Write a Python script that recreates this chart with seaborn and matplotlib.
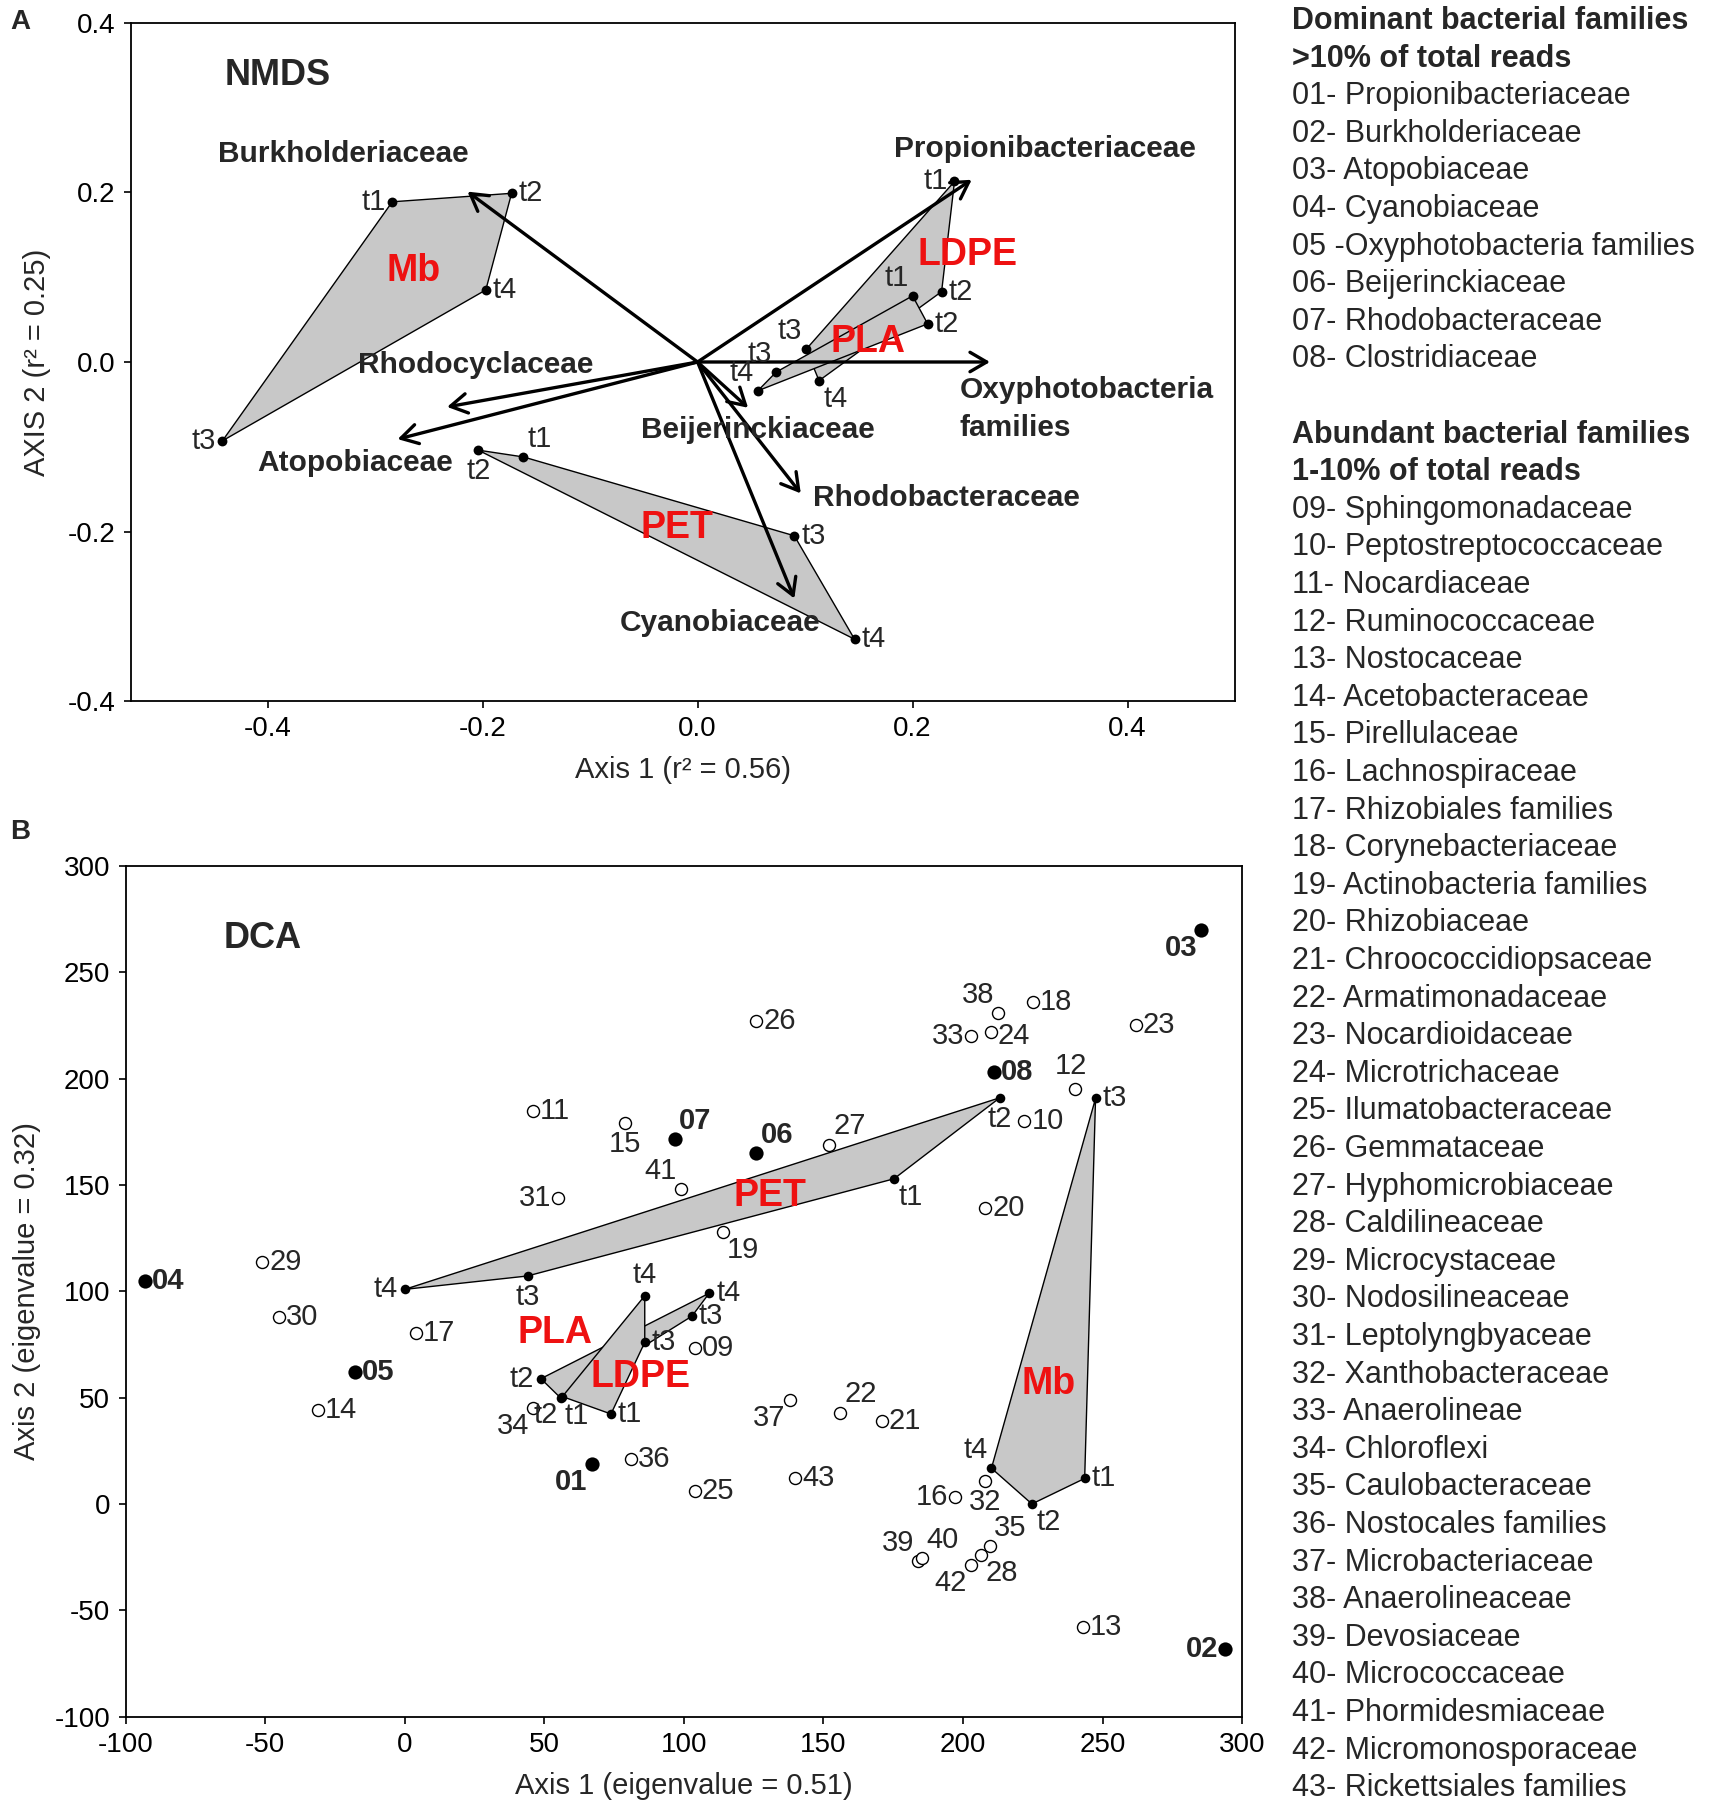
import numpy as np
import pandas as pd
import matplotlib
matplotlib.use('Agg')
import matplotlib.pyplot as plt
import seaborn as sns

# ---------------- Panel A : NMDS ----------------
times = ['t1', 't2', 't3', 't4']
nmds_mb_x = [-0.284, -0.173, -0.442, -0.197]
nmds_mb_y = [0.189, 0.199, -0.093, 0.085]
nmds_pet_x = [-0.162, -0.204, 0.090, 0.146]
nmds_pet_y = [-0.112, -0.104, -0.205, -0.327]
nmds_ldpe_x = [0.239, 0.227, 0.101, 0.113]
nmds_ldpe_y = [0.213, 0.083, 0.015, -0.022]
nmds_pla_x = [0.200, 0.214, 0.073, 0.056]
nmds_pla_y = [0.078, 0.045, -0.012, -0.034]

vec_names = ['Burkholderiaceae', 'Propionibacteriaceae', 'Oxyphotobacteria\nfamilies',
             'Rhodocyclaceae', 'Atopobiaceae', 'Beijerinckiaceae', 'Rhodobacteraceae',
             'Cyanobiaceae']
vec_x = [-0.214, 0.255, 0.272, -0.233, -0.279, 0.047, 0.096, 0.090]
vec_y = [0.201, 0.215, 0.0, -0.053, -0.091, -0.054, -0.155, -0.279]

# ---------------- Panel B : DCA ----------------
dca_pet_x = [175.3, 213.2, 44.0, 0.0]
dca_pet_y = [152.9, 191.0, 107.2, 100.9]
dca_mb_x = [243.6, 224.7, 247.5, 210.2]
dca_mb_y = [12.0, 0.0, 190.7, 16.8]
dca_pla_x = [55.9, 48.8, 102.9, 109.1]
dca_pla_y = [49.8, 58.9, 88.3, 99.1]
dca_ldpe_x = [73.9, 56.5, 86.0, 86.0]
dca_ldpe_y = [42.3, 50.5, 76.0, 97.9]

dom_ids = ['01', '02', '03', '04', '05', '06', '07', '08']
dom_x = [67, 294, 285.3, -93, -17.7, 126, 96.7, 211]
dom_y = [19, -68, 270, 105, 62, 165, 171.5, 203]

abd_ids = [f'{i:02d}' for i in range(9, 44)]
abd_x = [104, 222, 46, 240, 243, -31, 79, 197, 4, 225, 114, 208, 171, 156, 262, 210,
         104, 126, 152, 206.6, -51, -45, 55, 208, 203, 46, 209.6, 81, 138, 212.6,
         184, 185.5, 99, 203, 140]
abd_y = [73.5, 180, 185, 195, -58, 44, 179, 3.3, 80.5, 236, 128, 139, 39, 43, 225, 222,
         6.3, 227, 169, -24, 114, 88, 144, 11, 220, 45, -20, 21, 49, 231,
         -27, -25.5, 148, -28.5, 12]

legend_dom = ['Propionibacteriaceae', 'Burkholderiaceae', 'Atopobiaceae', 'Cyanobiaceae',
              'Oxyphotobacteria families', 'Beijerinckiaceae', 'Rhodobacteraceae',
              'Clostridiaceae']
legend_abd = ['Sphingomonadaceae', 'Peptostreptococcaceae', 'Nocardiaceae', 'Ruminococcaceae',
              'Nostocaceae', 'Acetobacteraceae', 'Pirellulaceae', 'Lachnospiraceae',
              'Rhizobiales families', 'Corynebacteriaceae', 'Actinobacteria families',
              'Rhizobiaceae', 'Chroococcidiopsaceae', 'Armatimonadaceae', 'Nocardioidaceae',
              'Microtrichaceae', 'Ilumatobacteraceae', 'Gemmataceae', 'Hyphomicrobiaceae',
              'Caldilineaceae', 'Microcystaceae', 'Nodosilineaceae', 'Leptolyngbyaceae',
              'Xanthobacteraceae', 'Anaerolineae', 'Chloroflexi', 'Caulobacteraceae',
              'Nostocales families', 'Microbacteriaceae', 'Anaerolineaceae', 'Devosiaceae',
              'Micrococcaceae', 'Phormidesmiaceae', 'Micromonosporaceae', 'Rickettsiales families']

# ---------------- label placement (layout only) ----------------
OFF = {'r': (5, 0, 'left', 'center'), 'l': (-5, 0, 'right', 'center'),
       'a': (0, 5, 'center', 'bottom'), 'b': (0, -5, 'center', 'top'),
       'ar': (3, 3, 'left', 'bottom'), 'al': (-3, 3, 'right', 'bottom'),
       'br': (3, -3, 'left', 'top'), 'bl': (-3, -3, 'right', 'top'),
       'ta': (-3, 7, 'center', 'bottom'), 'rb': (5, -3, 'left', 'center')}

pos_a = {'Mb': ['l', 'r', 'l', 'r'], 'PET': ['ar', 'b', 'r', 'r'],
         'LDPE': ['l', 'r', 'al', 'br'], 'PLA': ['al', 'r', 'al', 'al']}
pos_b = {'PET': ['br', 'b', 'b', 'l'], 'Mb': ['r', 'br', 'r', 'al'],
         'PLA': ['br', 'l', 'r', 'r'], 'LDPE': ['r', 'bl', 'r', 'a']}
pos_dom = ['bl', 'l', 'bl', 'r', 'r', 'ar', 'ar', 'r']
pos_abd = ['r', 'r', 'r', 'ta', 'r', 'r', 'b', 'l', 'r', 'r', 'br', 'r', 'r', 'ar', 'r', 'rb',
           'r', 'r', 'ar', 'br', 'r', 'r', 'l', 'b', 'l', 'bl', 'ar', 'r', 'bl', 'al',
           'al', 'ar', 'al', 'bl', 'r']

sns.set_style('ticks')
NARROW = ['Liberation Sans Narrow', 'Liberation Sans', 'DejaVu Sans']
ARIAL = ['Liberation Sans', 'DejaVu Sans']
plt.rcParams['font.family'] = NARROW
plt.rcParams['axes.unicode_minus'] = False
plt.rcParams['axes.edgecolor'] = 'black'
plt.rcParams['axes.linewidth'] = 1.3
plt.rcParams['xtick.color'] = 'black'
plt.rcParams['ytick.color'] = 'black'

GREY = '#c8c8c8'
TSIZE = 20
PSIZE = 21


def hull_order(xs, ys):
    xs = np.asarray(xs); ys = np.asarray(ys)
    ang = np.arctan2(ys - ys.mean(), xs - xs.mean())
    return np.argsort(ang)


def draw_groups(ax, groups, pos, s):
    rows = []
    for name, (gx, gy) in groups.items():
        o = hull_order(gx, gy)
        ax.fill(np.asarray(gx)[o], np.asarray(gy)[o], facecolor=GREY, edgecolor='black',
                linewidth=1.0, zorder=1)
        for t, x, y, p in zip(times, gx, gy, pos[name]):
            rows.append((name, t, x, y))
            dx, dy, ha, va = OFF[p]
            ax.annotate(t, (x, y), xytext=(dx, dy), textcoords='offset points',
                        ha=ha, va=va, fontsize=PSIZE, zorder=6)
    df = pd.DataFrame(rows, columns=['group', 'time', 'x', 'y'])
    sns.scatterplot(data=df, x='x', y='y', color='black', s=s, linewidth=0,
                    legend=False, ax=ax, zorder=5)


def style_axis(ax):
    ax.tick_params(axis='both', direction='out', length=5, width=1.2, labelsize=TSIZE, pad=6)
    for sp in ax.spines.values():
        sp.set_visible(True)
        sp.set_color('black')


fig = plt.figure(figsize=(17.13, 18.20), dpi=100)

# ---------- A ----------
axA = fig.add_axes([0.0765, 0.6148, 0.6445, 0.3726])
draw_groups(axA, {'Mb': (nmds_mb_x, nmds_mb_y), 'PET': (nmds_pet_x, nmds_pet_y),
                  'LDPE': (nmds_ldpe_x, nmds_ldpe_y), 'PLA': (nmds_pla_x, nmds_pla_y)},
            pos_a, 50)
for vx, vy in zip(vec_x, vec_y):
    axA.annotate('', xy=(vx, vy), xytext=(0, 0),
                 arrowprops=dict(arrowstyle='->,head_length=0.6,head_width=0.35',
                                 lw=2.4, color='black', shrinkA=0, shrinkB=0,
                                 mutation_scale=20), zorder=3)

vec_lab = [(-0.330, 0.245, 'center'), (0.323, 0.251, 'center'), (0.244, -0.055, 'left'),
           (-0.206, -0.004, 'center'), (-0.319, -0.119, 'center'), (0.056, -0.080, 'center'),
           (0.107, -0.160, 'left'), (0.021, -0.308, 'center')]
for name, (lx, ly, ha) in zip(vec_names, vec_lab):
    axA.text(lx, ly, name, ha=ha, va='center', fontsize=21.5, fontweight='bold',
             family=ARIAL, linespacing=1.45, zorder=7)

for name, (lx, ly) in zip(['Mb', 'PET', 'LDPE', 'PLA'],
                          [(-0.264, 0.107), (-0.019, -0.196), (0.251, 0.126), (0.159, 0.024)]):
    axA.text(lx, ly, name, color='#ee1111', fontsize=27, fontweight='bold', family=ARIAL,
             ha='center', va='center', zorder=7)
axA.text(-0.44, 0.338, 'NMDS', fontsize=26, fontweight='bold', family=ARIAL,
         ha='left', va='center')

axA.set_xlim(-0.527, 0.50)
axA.set_ylim(-0.4, 0.4)
axA.set_xticks([-0.4, -0.2, 0.0, 0.2, 0.4])
axA.set_xticklabels(['-0.4', '-0.2', '0.0', '0.2', '0.4'])
axA.set_yticks([-0.4, -0.2, 0.0, 0.2, 0.4])
axA.set_yticklabels(['-0.4', '-0.2', '0.0', '0.2', '0.4'])
axA.set_xlabel('Axis 1 (r² = 0.56)', fontsize=TSIZE + 1, labelpad=10)
axA.set_ylabel('AXIS 2 (r² = 0.25)', fontsize=TSIZE + 1, labelpad=12)
style_axis(axA)

# ---------- B ----------
axB = fig.add_axes([0.0733, 0.0568, 0.6518, 0.4674])
draw_groups(axB, {'PET': (dca_pet_x, dca_pet_y), 'Mb': (dca_mb_x, dca_mb_y),
                  'PLA': (dca_pla_x, dca_pla_y), 'LDPE': (dca_ldpe_x, dca_ldpe_y)},
            pos_b, 48)

dom_df = pd.DataFrame({'id': dom_ids, 'x': dom_x, 'y': dom_y})
abd_df = pd.DataFrame({'id': abd_ids, 'x': abd_x, 'y': abd_y})
sns.scatterplot(data=abd_df, x='x', y='y', facecolor='white', edgecolor='black', s=75,
                linewidth=1.0, legend=False, ax=axB, zorder=4)
sns.scatterplot(data=dom_df, x='x', y='y', color='black', s=105, linewidth=0,
                legend=False, ax=axB, zorder=4)
for i, x, y, p in zip(dom_ids, dom_x, dom_y, pos_dom):
    dx, dy, ha, va = OFF[p]
    axB.annotate(i, (x, y), xytext=(dx, dy), textcoords='offset points', ha=ha, va=va,
                 fontsize=21, fontweight='bold', family=ARIAL, zorder=6)
for i, x, y, p in zip(abd_ids, abd_x, abd_y, pos_abd):
    dx, dy, ha, va = OFF[p]
    axB.annotate(i, (x, y), xytext=(dx, dy), textcoords='offset points', ha=ha, va=va,
                 fontsize=PSIZE, zorder=6)

for name, (lx, ly) in zip(['PET', 'PLA', 'LDPE', 'Mb'],
                          [(130.7, 145), (53.8, 80.5), (84.3, 59.5), (230.6, 56.5)]):
    axB.text(lx, ly, name, color='#ee1111', fontsize=27, fontweight='bold', family=ARIAL,
             ha='center', va='center', zorder=7)
axB.text(-65, 266, 'DCA', fontsize=26, fontweight='bold', family=ARIAL,
         ha='left', va='center')

axB.set_xlim(-100, 300)
axB.set_ylim(-100, 300)
axB.set_xticks(np.arange(-100, 301, 50))
axB.set_yticks(np.arange(-100, 301, 50))
axB.set_xlabel('Axis 1 (eigenvalue = 0.51)', fontsize=TSIZE + 1, labelpad=10)
axB.set_ylabel('Axis 2 (eigenvalue = 0.32)', fontsize=TSIZE + 1, labelpad=10)
style_axis(axB)

# ---------- panel letters ----------
fig.text(0.006, 0.988, 'A', fontsize=20, fontweight='bold', family=ARIAL, va='center')
fig.text(0.006, 0.543, 'B', fontsize=20, fontweight='bold', family=ARIAL, va='center')

# ---------- family key ----------
lines = [('Dominant bacterial families', True), ('>10% of total reads', True)]
for k, n in enumerate(legend_dom, start=1):
    sep = ' -' if k == 5 else '- '
    lines.append((f'{k:02d}{sep}{n}', False))
lines.append(('', False))
lines += [('Abundant bacterial families', True), ('1-10% of total reads', True)]
for k, n in enumerate(legend_abd, start=9):
    lines.append((f'{k:02d}- {n}', False))

y0 = 1 - 21 / 1820
step = 37.6 / 1820
for j, (txt, bold) in enumerate(lines):
    fig.text(0.754, y0 - j * step, txt, fontsize=22, family=ARIAL,
             fontweight='bold' if bold else 'normal', ha='left', va='center')

fig.savefig('out.png', dpi=100, facecolor='white')
